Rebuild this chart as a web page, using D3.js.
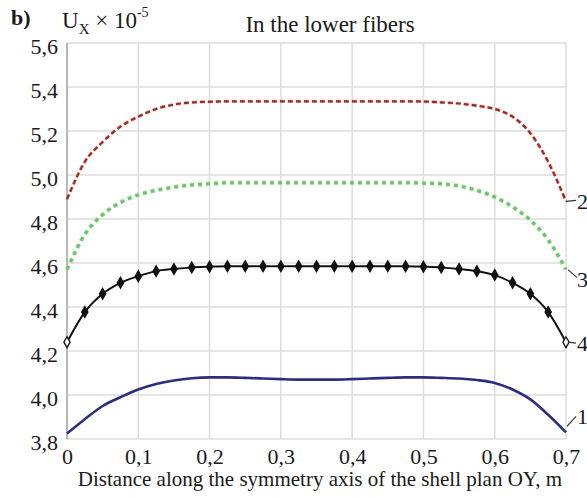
<!DOCTYPE html>
<html>
<head>
<meta charset="utf-8">
<script src="https://cdn.jsdelivr.net/npm/d3@7/dist/d3.min.js"></script>
<style>
  html, body { margin: 0; padding: 0; background: #fff; }
  svg { display: block; }
  svg text { font-family: "Liberation Serif", "Times New Roman", serif !important; fill: #1a1a1a; }
</style>
</head>
<body>
<svg id="chart" width="587" height="497"></svg>
<script>
// Distance along the OY axis, m (sampling step 0.025)
const xs = d3.range(0, 29).map(i => +(i * 0.025).toFixed(3));

// Ux × 10^-5 in the lower fibers, one array per curve
const curve1 = [3.825, 3.89, 3.95, 3.99, 4.025, 4.05, 4.066, 4.076, 4.08, 4.08, 4.078, 4.075, 4.072, 4.07, 4.07,
                4.07, 4.072, 4.075, 4.078, 4.08, 4.08, 4.078, 4.075, 4.068, 4.055, 4.025, 3.98, 3.91, 3.83];
const curve2 = [4.89, 5.06, 5.15, 5.22, 5.265, 5.30, 5.32, 5.33, 5.333, 5.335, 5.335, 5.335, 5.335, 5.335, 5.335,
                5.335, 5.335, 5.335, 5.335, 5.335, 5.334, 5.33, 5.325, 5.315, 5.30, 5.265, 5.19, 5.06, 4.88];
const curve3 = [4.57, 4.73, 4.82, 4.875, 4.91, 4.93, 4.945, 4.955, 4.96, 4.965, 4.965, 4.965, 4.965, 4.965, 4.965,
                4.965, 4.965, 4.965, 4.965, 4.965, 4.963, 4.96, 4.95, 4.93, 4.90, 4.855, 4.795, 4.705, 4.57];
const curve4 = [4.24, 4.377, 4.46, 4.51, 4.54, 4.563, 4.573, 4.58, 4.583, 4.585, 4.585, 4.585, 4.585, 4.585, 4.585,
                4.585, 4.585, 4.585, 4.585, 4.585, 4.583, 4.58, 4.573, 4.563, 4.545, 4.51, 4.46, 4.377, 4.24];

const curveNames = ["1", "2", "3", "4"];
const xTicks = [0, 0.1, 0.2, 0.3, 0.4, 0.5, 0.6, 0.7];
const yTicks = [3.8, 4.0, 4.2, 4.4, 4.6, 4.8, 5.0, 5.2, 5.4, 5.6];

const svg = d3.select("#chart");
const W = 587, H = 497;
const m = { left: 67, right: 21, top: 43, bottom: 58 };

const x = d3.scaleLinear().domain([0, 0.7]).range([m.left, W - m.right]);
const y = d3.scaleLinear().domain([3.8, 5.6]).range([H - m.bottom, m.top]);

const commaX = d => (d === 0 ? "0" : d3.format(".1f")(d).replace(".", ","));
const commaY = d => d3.format(".1f")(d).replace(".", ",");

// grid
const grid = svg.append("g");
grid.selectAll("line.v").data(xTicks).join("line")
  .attr("x1", d => x(d)).attr("x2", d => x(d))
  .attr("y1", y(3.8)).attr("y2", y(5.6))
  .attr("stroke", "#dcdcdc").attr("stroke-width", 1.5);
grid.selectAll("line.h").data(yTicks).join("line")
  .attr("x1", x(0)).attr("x2", x(0.7))
  .attr("y1", d => y(d)).attr("y2", d => y(d))
  .attr("stroke", "#dcdcdc").attr("stroke-width", 1.5);
// left axis line
svg.append("line")
  .attr("x1", x(0)).attr("x2", x(0)).attr("y1", y(3.8)).attr("y2", y(5.6))
  .attr("stroke", "#a8a8a8").attr("stroke-width", 1.5);

// axes (labels only; lines drawn above)
const xAxis = svg.append("g").attr("transform", `translate(0,${y(3.8)})`)
  .call(d3.axisBottom(x).tickValues(xTicks).tickFormat(commaX).tickSize(0).tickPadding(9));
const yAxis = svg.append("g").attr("transform", `translate(${x(0)},0)`)
  .call(d3.axisLeft(y).tickValues(yTicks).tickFormat(commaY).tickSize(0).tickPadding(9));
[xAxis, yAxis].forEach(a => {
  a.attr("font-family", null).attr("font-size", null);
  a.select(".domain").remove();
  a.selectAll("text").attr("font-size", 22);
});
yAxis.selectAll("text").attr("dy", "0.48em");
xAxis.selectAll("text").attr("dy", "0.72em");

// curves
const line = d3.line().x((d, i) => x(xs[i])).y(d => y(d)).curve(d3.curveMonotoneX);
const plot = svg.append("g");

plot.append("path").datum(curve3).attr("d", line).attr("fill", "none")
  .attr("stroke", "#a8e0a0").attr("stroke-width", 5).attr("stroke-dasharray", "4,4").attr("opacity", 0.6);
plot.append("path").datum(curve3).attr("d", line).attr("fill", "none")
  .attr("stroke", "#6cc46a").attr("stroke-width", 3).attr("stroke-dasharray", "4,4");

plot.append("path").datum(curve2).attr("d", line).attr("fill", "none")
  .attr("stroke", "#e08070").attr("stroke-width", 3.5).attr("stroke-dasharray", "5,3").attr("opacity", 0.5);
plot.append("path").datum(curve2).attr("d", line).attr("fill", "none")
  .attr("stroke", "#9a2a22").attr("stroke-width", 2.2).attr("stroke-dasharray", "5,3");

plot.append("path").datum(curve4).attr("d", line).attr("fill", "none")
  .attr("stroke", "#111").attr("stroke-width", 2);
const diamond = d3.symbol().type(d3.symbolDiamond).size(34);
plot.selectAll("path.mk").data(curve4).join("path").attr("class", "mk")
  .attr("d", diamond)
  .attr("transform", (d, i) => `translate(${x(xs[i])},${y(d)})`)
  .attr("fill", (d, i) => (i === 0 || i === xs.length - 1) ? "#fff" : "#111")
  .attr("stroke", "#111").attr("stroke-width", 1.3);

plot.append("path").datum(curve1).attr("d", line).attr("fill", "none")
  .attr("stroke", "#2b2e80").attr("stroke-width", 2.6);

// curve numbers with leader lines at the right end
const last = xs.length - 1;
const labelSpec = [
  { name: curveNames[1], v: curve2[last], dx1: 0, dy1: 0, dx2: 10, dy2: -1, ly: 0 },
  { name: curveNames[2], v: curve3[last], dx1: 2, dy1: 0, dx2: 11, dy2: 8, ly: 9 },
  { name: curveNames[3], v: curve4[last], dx1: 2, dy1: 0, dx2: 10, dy2: 1, ly: 1 },
  { name: curveNames[0], v: curve1[last], dx1: 1, dy1: -6, dx2: 10, dy2: -16, ly: -16 }
];
const lab = svg.append("g");
labelSpec.forEach(s => {
  const px = x(0.7), py = y(s.v);
  lab.append("line")
    .attr("x1", px + s.dx1).attr("y1", py + s.dy1)
    .attr("x2", px + s.dx2).attr("y2", py + s.dy2)
    .attr("stroke", "#333").attr("stroke-width", 1.2);
  lab.append("text").attr("x", px + 11).attr("y", py + s.ly).attr("dy", "0.36em")
    .attr("font-size", 22).text(s.name);
});

// titles
svg.append("text").attr("x", 11).attr("y", 25).attr("font-size", 22).attr("font-weight", "bold")
  .text("b)");
const ux = svg.append("text").attr("x", 62).attr("y", 28).attr("font-size", 23);
ux.append("tspan").text("U");
ux.append("tspan").attr("font-size", 15).attr("dy", 6).text("X");
ux.append("tspan").attr("dy", -6).text(" \u00d7 10");
ux.append("tspan").attr("font-size", 14).attr("dy", -11).text("-5");

svg.append("text").attr("x", 330).attr("y", 32).attr("text-anchor", "middle")
  .attr("font-size", 23).text("In the lower fibers");

svg.append("text").attr("x", 320).attr("y", 486).attr("text-anchor", "middle")
  .attr("font-size", 21)
  .text("Distance along the symmetry axis of the shell plan OY, m");
</script>
</body>
</html>
